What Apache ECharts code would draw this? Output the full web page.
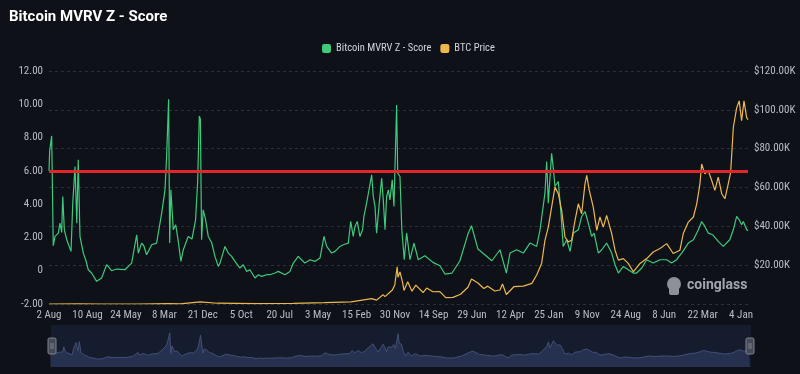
<!DOCTYPE html>
<html>
<head>
<meta charset="utf-8">
<script src="https://cdn.jsdelivr.net/npm/echarts@6/dist/echarts.min.js"></script>
<style>
html,body{margin:0;padding:0;background:#0e1118;}
#chart{width:800px;height:374px;}
</style>
</head>
<body>
<div id="chart"></div>
<script>
// ---- Data ----
const titleText = 'Bitcoin MVRV Z - Score';
const seriesNames = ['Bitcoin MVRV Z - Score', 'BTC Price'];
// category dates: first sample, then daily samples
const firstCategory = '2010-08-02';
const dailyStart = '2010-10-27';
const dailyEnd = '2025-02-25';
const monthNames = ['Jan','Feb','Mar','Apr','May','Jun','Jul','Aug','Sep','Oct','Nov','Dec'];
const leftTicks = {min: -2, max: 12, interval: 2};
const rightTicks = {min: 0, max: 120000, interval: 20000};
const thresholdZ = 6;

const zScorePoints = [
 ['2010-08-02',6.0],['2010-10-31',7.2],['2010-11-15',8.1],['2010-11-27',1.5],['2010-12-10',2.06],
 ['2011-01-04',2.26],['2011-01-16',2.86],['2011-01-29',2.3],['2011-02-06',4.46],['2011-02-18',2.46],
 ['2011-03-08',1.86],['2011-04-09',1.16],['2011-04-22',4.06],['2011-05-09',6.26],['2011-05-22',2.86],
 ['2011-06-02',6.66],['2011-06-15',2.06],['2011-07-10',1.06],['2011-07-30',0.6],
 ['2011-08-16',0.06],['2011-09-10',-0.14],['2011-10-18',-0.64],['2011-11-24',-0.44],['2012-01-01',0.36],
 ['2012-02-07',0.0],['2012-03-15',0.1],['2012-05-17',0.06],['2012-07-06',0.46],['2012-08-13',2.16],
 ['2012-08-25',1.06],['2012-09-19',1.66],['2012-10-05',1.5],['2012-10-26',0.96],['2012-12-03',1.56],
 ['2013-01-09',1.66],['2013-02-16',3.46],['2013-03-13',4.86],['2013-03-25',6.86],['2013-04-09',10.3],
 ['2013-04-17',1.66],['2013-04-26',4.86],['2013-05-14',2.46],['2013-06-01',2.76],['2013-06-18',1.9],
 ['2013-07-10',0.56],['2013-07-28',1.26],['2013-09-03',2.06],['2013-10-01',1.9],['2013-10-28',3.06],
 ['2013-11-12',5.26],['2013-11-25',9.3],['2013-12-03',9.1],['2013-12-12',1.86],['2013-12-24',3.66],
 ['2014-01-10',3.1],['2014-01-31',2.06],['2014-02-25',1.7],['2014-03-22',0.86],['2014-04-16',0.26],
 ['2014-04-29',0.46],['2014-06-05',1.46],['2014-06-30',1.06],['2014-07-25',0.86],['2014-08-19',0.56],
 ['2014-09-25',0.16],['2014-10-20',0.36],['2014-11-15',-0.04],['2014-12-09',0.06],['2015-01-16',-0.44],
 ['2015-02-10',-0.24],['2015-03-07',-0.34],['2015-04-13',-0.24],['2015-05-08',-0.24],['2015-06-15',-0.14],
 ['2015-07-09',-0.04],['2015-07-22',0.06],['2015-08-28',-0.24],['2015-10-05',-0.04],['2015-10-30',0.46],
 ['2015-12-06',0.86],['2015-12-31',0.66],['2016-01-25',0.46],['2016-03-03',0.66],['2016-04-09',0.56],
 ['2016-05-17',0.76],['2016-06-16',2.06],['2016-07-06',1.46],['2016-08-12',1.06],['2016-09-06',1.16],
 ['2016-10-14',1.46],['2016-11-07',1.56],['2016-12-15',1.66],['2017-01-02',2.96],['2017-01-21',2.06],
 ['2017-02-03',2.66],['2017-02-20',2.96],['2017-03-12',2.06],['2017-04-01',2.46],['2017-04-11',3.26],
 ['2017-05-01',4.06],['2017-05-19',4.86],['2017-06-08',5.76],['2017-06-20',4.46],['2017-07-03',3.86],
 ['2017-07-15',2.26],['2017-08-04',4.06],['2017-08-22',5.56],['2017-09-03',4.26],['2017-09-16',2.46],
 ['2017-09-28',4.46],['2017-10-11',4.86],['2017-10-23',4.26],['2017-11-09',5.46],['2017-11-22',3.86],
 ['2017-12-12',9.96],['2017-12-20',5.86],['2018-01-06',5.66],['2018-01-20',2.46],['2018-02-07',0.66],
 ['2018-02-25',2.26],['2018-03-22',0.66],['2018-04-21',1.66],['2018-05-23',0.66],['2018-07-12',0.9],
 ['2018-09-10',0.5],['2018-11-01',0.3],['2018-12-09',-0.2],['2019-01-30',-0.15],['2019-03-31',0.6],
 ['2019-05-30',2.2],['2019-06-26',2.7],['2019-08-13',1.3],['2019-10-12',0.9],['2019-11-26',0.6],
 ['2020-01-25',1.26],['2020-03-13',-0.14],['2020-04-09',1.06],['2020-05-29',1.26],['2020-07-18',1.06],
 ['2020-09-06',1.66],['2020-10-26',1.46],['2020-11-20',2.46],['2020-12-27',4.66],['2021-01-09',6.56],
 ['2021-01-21',4.06],['2021-02-15',7.06],['2021-03-01',6.06],['2021-03-12',5.06],['2021-04-06',5.36],
 ['2021-04-24',3.66],['2021-05-13',1.46],['2021-06-08',1.86],['2021-07-03',1.16],['2021-07-28',2.26],
 ['2021-09-03',2.46],['2021-09-28',3.26],['2021-10-23',3.56],['2021-11-10',3.06],['2021-12-12',2.06],
 ['2021-12-30',2.26],['2022-01-31',1.06],['2022-02-25',1.26],['2022-04-03',1.66],['2022-05-11',1.06],
 ['2022-06-05',0.36],['2022-06-30',-0.14],['2022-08-06',0.26],['2022-09-12',0.06],['2022-10-20',-0.14],
 ['2022-11-14',-0.14],['2022-12-22',0.16],['2023-01-28',0.66],['2023-03-18',0.46],['2023-05-08',0.66],
 ['2023-06-27',0.66],['2023-08-02',0.46],['2023-09-09',0.66],['2023-10-17',1.06],['2023-12-06',1.66],
 ['2024-01-13',1.86],['2024-02-19',2.46],['2024-03-15',2.96],['2024-04-08',2.66],['2024-05-03',2.26],
 ['2024-06-06',2.16],['2024-07-17',1.76],['2024-08-24',1.46],['2024-10-11',1.86],['2024-11-07',2.46],
 ['2024-12-02',3.26],['2024-12-21',3.06],['2025-01-08',2.76],['2025-01-21',2.96],['2025-02-15',2.46],
 ['2025-02-25',2.4]
];

const btcPricePoints = [
 ['2010-08-02',0.07],['2011-06-08',30],['2011-11-20',2],['2012-08-15',12],['2013-04-09',230],
 ['2013-07-05',70],['2013-12-01',1100],['2014-04-10',400],['2015-01-14',180],['2015-10-30',320],
 ['2016-06-18',700],['2017-01-04',1100],['2017-06-08',2800],['2017-07-15',2000],['2017-09-01',4800],
 ['2017-09-16',3800],['2017-11-10',7200],['2017-11-28',9800],['2017-12-16',19200],['2017-12-22',13800],
 ['2018-01-06',16500],['2018-01-26',11000],['2018-02-05',7000],['2018-03-05',11400],['2018-04-06',6600],
 ['2018-05-05',9700],['2018-06-28',5900],['2018-07-25',8200],['2018-09-10',6300],['2018-11-01',6400],
 ['2018-12-15',3300],['2019-02-07',3400],['2019-04-05',5000],['2019-05-30',8600],['2019-06-26',12900],
 ['2019-08-13',10800],['2019-09-26',8000],['2019-10-26',9200],['2019-12-17',6700],['2020-01-25',7200],
 ['2020-02-13',10300],['2020-03-13',4900],['2020-05-08',8900],['2020-07-18',9200],['2020-09-20',10600],
 ['2020-10-26',14900],['2020-12-02',20900],['2020-12-27',32800],['2021-01-21',39600],['2021-02-15',49900],
 ['2021-03-12',60200],['2021-04-06',56800],['2021-05-01',48200],['2021-05-26',34500],['2021-06-20',32000],
 ['2021-07-15',32800],['2021-08-09',43000],['2021-09-03',51600],['2021-09-28',46500],['2021-10-23',61900],
 ['2021-11-05',66200],['2021-11-24',58500],['2021-12-24',49900],['2022-01-19',37900],['2022-02-12',44800],
 ['2022-03-09',39600],['2022-04-03',45600],['2022-05-11',36300],['2022-06-05',27700],['2022-06-30',22600],
 ['2022-08-06',23400],['2022-09-12',20900],['2022-10-20',16600],['2022-12-09',20900],['2023-01-28',23400],
 ['2023-03-18',26800],['2023-05-08',28600],['2023-06-27',31100],['2023-08-15',26000],['2023-10-04',27700],
 ['2023-10-29',36300],['2023-12-06',42200],['2024-01-13',44800],['2024-02-07',51600],['2024-03-02',61900],
 ['2024-03-15',72100],['2024-04-08',67000],['2024-05-03',68700],['2024-05-29',63600],['2024-06-22',58500],
 ['2024-07-17',65300],['2024-08-12',56800],['2024-09-05',54200],['2024-09-30',61900],['2024-10-18',67800],
 ['2024-11-07',90900],['2024-12-02',101000],['2024-12-21',104600],['2025-01-08',94400],['2025-01-26',104600],
 ['2025-02-15',96000],['2025-02-25',95000]
];

// ---- Build category axis (dates) ----
function ymd(d){return d.toISOString().slice(0,10);}
const categories = [firstCategory];
for (let d = new Date(dailyStart + 'T00:00:00Z'); ymd(d) <= dailyEnd; d.setUTCDate(d.getUTCDate()+1)) {
  categories.push(ymd(d));
}
function dateLabel(s){const p=s.split('-');return (+p[2])+' '+monthNames[+p[1]-1];}

const green = '#3ec97c';
const orange = '#edb84e';
const labelColor = '#b9bdc6';
const narrow = "'Liberation Sans Narrow', 'Roboto Condensed', Roboto, sans-serif";

const chart = echarts.init(document.getElementById('chart'), null, {renderer:'canvas'});
chart.setOption({
  backgroundColor: '#0e1118',
  animation: false,
  title: {text: titleText, left: 4, top: 5,
    textStyle: {color:'#ffffff', fontSize: 15, fontWeight:'bold', fontFamily: 'Roboto'}},
  legend: {data: seriesNames, top: 38, left: 317, itemWidth: 9, itemHeight: 9, itemGap: 9,
    icon: 'roundRect',
    textStyle: {color:'#d2d5dc', fontSize: 10.5, fontFamily: narrow}},
  grid: [
    {left: 49, right: 52, top: 71, bottom: 70},
    {left: 50, right: 50, top: 325, height: 42}
  ],
  xAxis: [
    {type:'category', data: categories, boundaryGap: false, gridIndex: 0,
      axisLine:{show:false}, axisTick:{show:false},
      axisLabel:{interval: 287, color: labelColor, fontSize: 11, fontFamily: narrow, margin: 6,
        formatter: dateLabel},
      splitLine:{show:false}},
    {type:'category', data: categories, boundaryGap: false, gridIndex: 1, show: false}
  ],
  yAxis: [
    {type:'value', min: leftTicks.min, max: leftTicks.max, interval: leftTicks.interval, gridIndex:0,
      axisLine:{show:false}, axisTick:{show:false}, splitLine:{show:false},
      axisLabel:{color: labelColor, fontSize: 11, fontFamily: narrow, margin: 6,
        formatter: v => v === 0 ? '0' : v.toFixed(2)}},
    {type:'value', min: rightTicks.min, max: rightTicks.max, interval: rightTicks.interval, gridIndex:0,
      position:'right',
      axisLine:{show:false}, axisTick:{show:false},
      splitLine:{show:true, lineStyle:{color:'#2a2f3b', type:[3,3], width:1}},
      axisLabel:{color: labelColor, fontSize: 11, fontFamily: narrow, margin: 6,
        formatter: v => v === 0 ? '' : '$' + (v/1000).toFixed(2) + 'K'}},
    {type:'value', gridIndex:1, show:false,
      min: e => e.min - (e.max - e.min) * 0.3, max: e => e.max + (e.max - e.min) * 0.3}
  ],
  dataZoom: [{
    type:'slider', xAxisIndex: 0, left: 50, right: 50, top: 325, height: 42,
    showDataShadow: false, showDetail: false, brushSelect: false,
    backgroundColor: 'rgba(30,42,72,0.45)', borderColor: 'transparent', fillerColor: 'rgba(0,0,0,0)',
    moveHandleSize: 0,
    handleIcon: 'path://M-2.5,-8h5a1.5,1.5,0,0,1,1.5,1.5v13a1.5,1.5,0,0,1,-1.5,1.5h-5a1.5,1.5,0,0,1,-1.5,-1.5v-13a1.5,1.5,0,0,1,1.5,-1.5zM-1,-3v6M1,-3v6',
    handleSize: '38%',
    handleStyle: {color:'#454a57', borderColor:'#80858f', borderWidth: 1},
    start: 0, end: 100
  }],
  series: [
    {name: seriesNames[0], type:'line', xAxisIndex:0, yAxisIndex:0, data: zScorePoints,
      showSymbol:false, symbol:'none', color: green,
      lineStyle:{color: green, width: 1.2},
      markLine:{silent:true, symbol:'none', label:{show:false},
        lineStyle:{color:'#e3262c', width:3, type:'solid'}, data:[{yAxis: thresholdZ}]}},
    {name: seriesNames[1], type:'line', xAxisIndex:0, yAxisIndex:1, data: btcPricePoints,
      showSymbol:false, symbol:'none', color: orange,
      lineStyle:{color: orange, width: 1.2}},
    {name: 'shadow', type:'line', xAxisIndex:1, yAxisIndex:2, data: zScorePoints, silent:true,
      showSymbol:false, symbol:'none',
      lineStyle:{color:'#6676a4', width: 0.9}, areaStyle:{color:'#2c3757', origin:'start', opacity: 1}, z: 1}
  ],
  graphic: [
    {type:'group', left: 667, top: 277, children: [
      {type:'circle', shape:{cx:8, cy:7, r:7}, style:{fill:'#8d9097'}},
      {type:'rect', shape:{x:3, y:9, width:10, height:9, r:2}, style:{fill:'#8d9097'}},
      {type:'text', left: 21, top: 1, style:{text:'coinglass', fill:'#a3a6ad', fontSize: 14, fontWeight:'bold', fontFamily: 'Roboto'}}
    ]}
  ]
});
</script>
</body>
</html>
